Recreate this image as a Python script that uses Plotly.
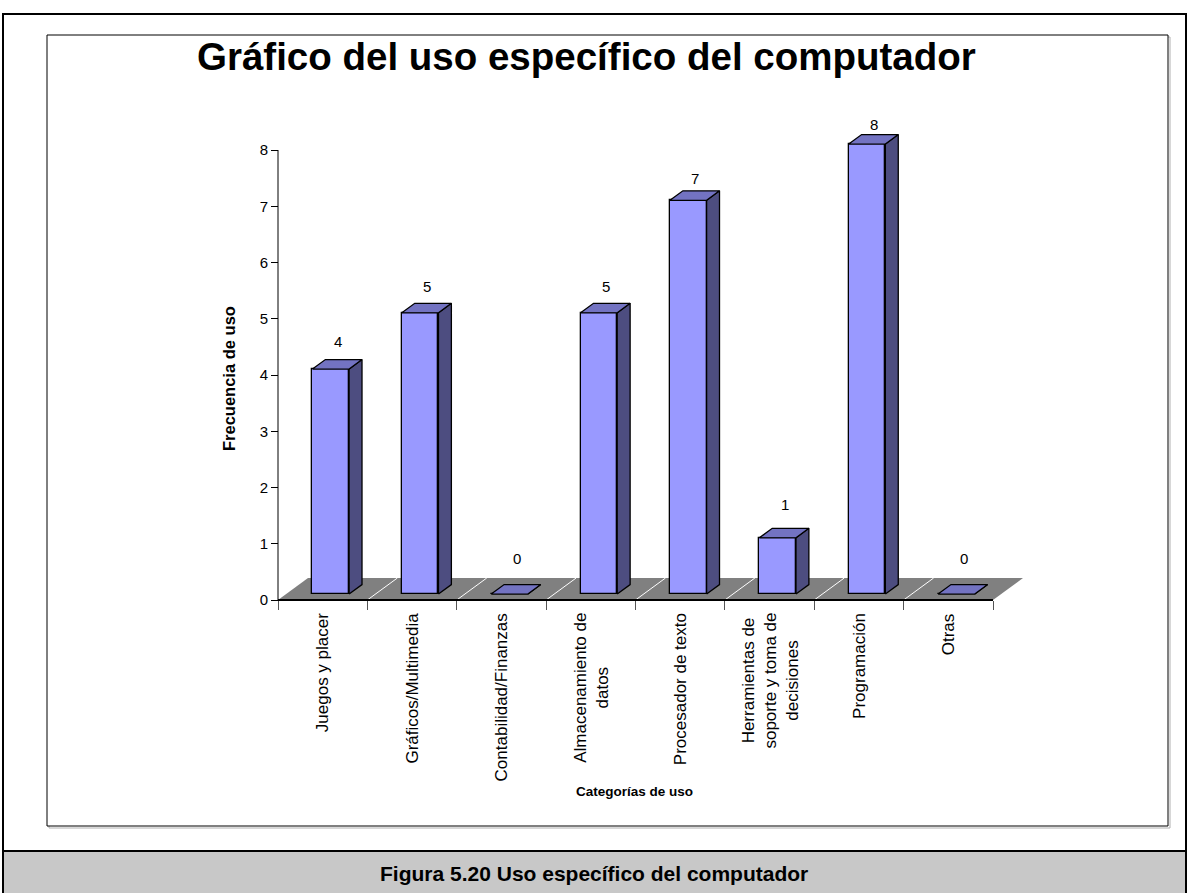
import plotly.graph_objects as go

# ---- data -------------------------------------------------------------
categorias = [
    "Juegos y placer",
    "Gráficos/Multimedia",
    "Contabilidad/Finanzas",
    "Almacenamiento de<br>datos",
    "Procesador de texto",
    "Herramientas de<br>soporte y toma de<br>decisiones",
    "Programación",
    "Otras",
]
frecuencia = [4, 5, 0, 5, 7, 1, 8, 0]
y_ticks = [0, 1, 2, 3, 4, 5, 6, 7, 8]

titulo = "Gráfico del uso específico del computador"
eje_x = "Categorías de uso"
eje_y = "Frecuencia de uso"
pie = "Figura 5.20 Uso específico del computador"

# ---- page geometry -----------------------------------------------------
W, H = 1189, 893
FONT = "Arial, Liberation Sans, sans-serif"


def px(x):
    return x / W


def py(y):
    return 1 - y / H


# pixel scale of the category / value axes
CAT_PX = 89.375
UNIT_PX = 56.25
ORIGIN_X, ORIGIN_Y = 278, 600

# oblique depth of the floor (in axis units)
DEPTH_X = 30 / CAT_PX
DEPTH_Y = 22 / UNIT_PX
D_FRONT, D_BACK = 0.27, 0.70   # bar slab inside the floor depth
BAR_W = 0.41

FRONT_C = "#9999FF"
TOP_C = "#7373C2"
SIDE_C = "#4D4D80"
EDGE = dict(color="black", width=1.3)

n = len(categorias)
x_lo = (258 - ORIGIN_X) / CAT_PX
x_hi = (1043 - ORIGIN_X) / CAT_PX
y_lo = (ORIGIN_Y - 620) / UNIT_PX
y_hi = (ORIGIN_Y - 110) / UNIT_PX

fx_off = D_FRONT * DEPTH_X
fy_off = D_FRONT * DEPTH_Y
ddx = (D_BACK - D_FRONT) * DEPTH_X
ddy = (D_BACK - D_FRONT) * DEPTH_Y

fig = go.Figure()

# front faces of the bars
centers = [i + 0.5 for i in range(n)]
fig.add_trace(go.Bar(
    x=[c + fx_off for c in centers],
    y=frecuencia,
    base=[fy_off] * n,
    width=BAR_W,
    marker=dict(color=FRONT_C, line=EDGE),
    hoverinfo="skip",
    showlegend=False,
))

# top and side faces
top_x, top_y, side_x, side_y = [], [], [], []
for c, v in zip(centers, frecuencia):
    x0 = c - BAR_W / 2 + fx_off
    x1 = x0 + BAR_W
    y0 = fy_off
    y1 = fy_off + v
    top_x += [x0, x1, x1 + ddx, x0 + ddx, x0, None]
    top_y += [y1, y1, y1 + ddy, y1 + ddy, y1, None]
    side_x += [x1, x1 + ddx, x1 + ddx, x1, x1, None]
    side_y += [y0, y0 + ddy, y1 + ddy, y1, y0, None]

fig.add_trace(go.Scatter(x=side_x, y=side_y, mode="lines", fill="toself",
                         fillcolor=SIDE_C, line=EDGE, hoverinfo="skip",
                         showlegend=False))
fig.add_trace(go.Scatter(x=top_x, y=top_y, mode="lines", fill="toself",
                         fillcolor=TOP_C, line=EDGE, hoverinfo="skip",
                         showlegend=False))

shapes = []
# page frames (kept underneath the plot)
shapes.append(dict(type="rect", xref="paper", yref="paper", layer="below",
                   x0=px(3), x1=px(1186), y0=py(851), y1=py(14),
                   line=dict(color="black", width=2)))
shapes.append(dict(type="rect", xref="paper", yref="paper", layer="below",
                   x0=px(3), x1=px(1186), y0=py(895), y1=py(851),
                   fillcolor="#C8C8C8", line=dict(color="black", width=2)))
shapes.append(dict(type="rect", xref="paper", yref="paper", layer="below",
                   x0=px(49), x1=px(1170), y0=py(828), y1=py(37),
                   line=dict(color="#B0B0B0", width=1)))
shapes.append(dict(type="rect", xref="paper", yref="paper", layer="below",
                   x0=px(47), x1=px(1168), y0=py(826), y1=py(35),
                   fillcolor="white", line=dict(color="black", width=1)))
# floor
shapes.append(dict(
    type="path", xref="x", yref="y", layer="below",
    path=f"M 0,0 L {n},0 L {n + DEPTH_X},{DEPTH_Y} L {DEPTH_X},{DEPTH_Y} Z",
    fillcolor="#808080", line=dict(width=0),
))
# floor grid lines at category boundaries
for b in range(1, n):
    shapes.append(dict(type="line", xref="x", yref="y", layer="below",
                       x0=b, y0=0, x1=b + DEPTH_X, y1=DEPTH_Y,
                       line=dict(color="white", width=1)))
# front edge of the floor and the value axis line
shapes.append(dict(type="line", xref="x", yref="y", x0=0, y0=0, x1=n, y1=0,
                   line=dict(color="black", width=2)))
shapes.append(dict(type="line", xref="x", yref="y", x0=0, y0=0, x1=0,
                   y1=y_ticks[-1], line=dict(color="black", width=1)))

annotations = []
# value labels
for c, v in zip(centers, frecuencia):
    lift = 0.74 - 0.035 * v
    annotations.append(dict(x=c + 0.17, y=v + lift, xref="x", yref="y",
                            text=str(v), showarrow=False,
                            xanchor="center", yanchor="middle",
                            font=dict(family=FONT, size=15, color="black")))
# category labels
for c, lab in zip(centers, categorias):
    annotations.append(dict(x=c, xref="x", y=py(611), yref="paper",
                            text=lab, showarrow=False, textangle=-90,
                            xanchor="center", yanchor="top", align="center",
                            font=dict(family=FONT, size=17, color="black")))
# titles
annotations.append(dict(x=px(586), y=py(57), xref="paper", yref="paper",
                        text=f"<b>{titulo}</b>", showarrow=False,
                        xanchor="center", yanchor="middle",
                        font=dict(family=FONT, size=38.5, color="black")))
annotations.append(dict(x=px(634), y=py(791), xref="paper", yref="paper",
                        text=f"<b>{eje_x}</b>", showarrow=False,
                        xanchor="center", yanchor="middle",
                        font=dict(family=FONT, size=13.5, color="black")))
annotations.append(dict(x=px(229), y=py(379), xref="paper", yref="paper",
                        text=f"<b>{eje_y}</b>", showarrow=False, textangle=-90,
                        xanchor="center", yanchor="middle",
                        font=dict(family=FONT, size=16.5, color="black")))
annotations.append(dict(x=px(594), y=py(873), xref="paper", yref="paper",
                        text=f"<b>{pie}</b>", showarrow=False,
                        xanchor="center", yanchor="middle",
                        font=dict(family=FONT, size=21, color="black")))

fig.update_layout(
    width=W, height=H,
    margin=dict(l=0, r=0, t=0, b=0),
    paper_bgcolor="white", plot_bgcolor="rgba(0,0,0,0)",
    showlegend=False,
    shapes=shapes,
    annotations=annotations,
    xaxis=dict(
        range=[x_lo, x_hi], domain=[px(258), px(1043)],
        anchor="free", position=py(ORIGIN_Y),
        tickmode="array", tickvals=list(range(n + 1)),
        ticks="outside", ticklen=9, tickcolor="#555555", tickwidth=1,
        showticklabels=False, showgrid=False, zeroline=False, showline=False,
        fixedrange=True,
    ),
    yaxis=dict(
        range=[y_lo, y_hi], domain=[py(620), py(110)],
        anchor="free", position=px(ORIGIN_X),
        tickmode="array", tickvals=y_ticks,
        ticks="outside", ticklen=7, tickcolor="black", tickwidth=1,
        tickfont=dict(family=FONT, size=15, color="black"),
        showgrid=False, zeroline=False, showline=False,
        fixedrange=True,
    ),
    bargap=0,
)

fig.write_html("out.html")
